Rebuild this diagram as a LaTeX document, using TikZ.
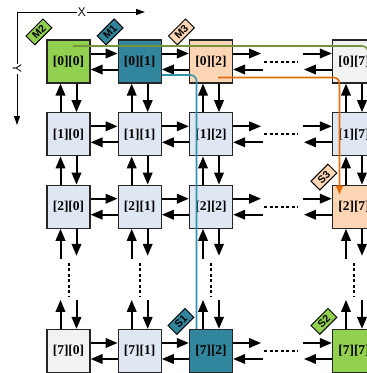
\documentclass[tikz,border=0pt]{standalone}
\usepackage{fontspec}
\setmainfont{Liberation Serif}
\newfontfamily\tagfont{Liberation Sans}
\usetikzlibrary{arrows.meta}
\definecolor{cgreen}{HTML}{92D050}
\definecolor{cteal}{HTML}{31859C}
\definecolor{cpeach}{HTML}{FCD5B5}
\definecolor{cblue}{HTML}{DFE7F3}
\definecolor{cgray}{HTML}{F2F2F2}
\definecolor{pgreen}{HTML}{77933C}
\definecolor{pteal}{HTML}{3493AC}
\definecolor{porange}{HTML}{E46C0A}
\tikzset{
  cell/.style={draw=black!85, line width=1.2pt, minimum size=43pt, inner sep=0pt,
    font=\bfseries\fontsize{13.5}{14}\selectfont},
  arr/.style={line width=2pt, -{Triangle[length=12pt,width=9.5pt]}},
  dots/.style={line width=2pt, dash pattern=on 3pt off 2.5pt},
  tagbox/.style={draw=black, line width=1pt, rotate=45, minimum width=24pt, minimum height=12.5pt,
    inner sep=0pt, font=\tagfont\bfseries\fontsize{10.5}{10.5}\selectfont},
  axis/.style={line width=1pt, -{Triangle[length=9pt,width=6pt]}},
  route/.style={line width=1.6pt, rounded corners=6pt},
}
\begin{document}
\begin{tikzpicture}[x=1pt,y=-1pt]
\useasboundingbox (0,0) rectangle (367,373);
\clip (0,0) rectangle (367,373);
% axes
\coordinate (O) at (17,12);
\coordinate (Xe) at (145,12);
\coordinate (Ye) at (17,125);
\draw[axis] (O) -- (Xe);
\draw[axis] (O) -- (Ye);
\node[fill=white, inner sep=1pt, font=\sffamily\fontsize{12.5}{12.5}\selectfont] (xl) at (82,12) {X};
\node[fill=white, inner sep=1pt, rotate=-90, font=\sffamily\fontsize{12.5}{12.5}\selectfont] (yl) at (17,69) {Y};
% cells
\node[cell, fill=cgreen] (n00) at (68.5,61.5) {[0][0]};
\node[cell, fill=cteal]  (n01) at (139.7,61.5) {[0][1]};
\node[cell, fill=cpeach] (n02) at (211,61.5) {[0][2]};
\node[cell, fill=cgray]  (n07) at (354,61.5) {[0][7]};
\node[cell, fill=cblue]  (n10) at (68.5,134.3) {[1][0]};
\node[cell, fill=cblue]  (n11) at (139.7,134.3) {[1][1]};
\node[cell, fill=cblue]  (n12) at (211,134.3) {[1][2]};
\node[cell, fill=cblue]  (n17) at (354,134.3) {[1][7]};
\node[cell, fill=cblue]  (n20) at (68.5,206.7) {[2][0]};
\node[cell, fill=cblue]  (n21) at (139.7,206.7) {[2][1]};
\node[cell, fill=cblue]  (n22) at (211,206.7) {[2][2]};
\node[cell, fill=cpeach] (n27) at (354,206.7) {[2][7]};
\node[cell, fill=cgray]  (n70) at (68.5,351) {[7][0]};
\node[cell, fill=cblue]  (n71) at (139.7,351) {[7][1]};
\node[cell, fill=cteal]  (n72) at (211,351) {[7][2]};
\node[cell, fill=cgreen] (n77) at (354,351) {[7][7]};
% horizontal links
\foreach \r in {0,1,2,7}{
  \foreach \a/\b in {0/1,1/2}{
    \draw[arr] ([yshift=8pt]n\r\a.east) -- ([yshift=8pt]n\r\b.west);
    \draw[arr] ([yshift=-8pt]n\r\b.west) -- ([yshift=-8pt]n\r\a.east);
  }
  \draw[arr] ([yshift=8pt]n\r2.east) -- ++(28,0);
  \draw[arr] ([shift={(30,8)}]n\r2.east) -- ([yshift=-8pt]n\r2.east);
  \draw[dots] ([xshift=31pt]n\r2.east) -- ([xshift=-34pt]n\r7.west);
  \draw[arr] ([shift={(-29,-8)}]n\r7.west) -- ([yshift=8pt]n\r7.west);
  \draw[arr] ([yshift=-8pt]n\r7.west) -- ++(-28,0);
}
% vertical links
\foreach \c in {0,1,2,7}{
  \foreach \a/\b in {0/1,1/2}{
    \draw[arr] ([xshift=-8pt]n\b\c.north) -- ([xshift=-8pt]n\a\c.south);
    \draw[arr] ([xshift=8pt]n\a\c.south) -- ([xshift=8pt]n\b\c.north);
  }
  \draw[arr] ([xshift=8pt]n2\c.south) -- ++(0,27);
  \draw[arr] ([shift={(-8,30)}]n2\c.south) -- ([xshift=-8pt]n2\c.south);
  \draw[dots] ([yshift=-34pt]n2\c.south) -- ([yshift=32pt]n7\c.north);
  \draw[arr] ([xshift=-8pt]n7\c.north) -- ++(0,-29);
  \draw[arr] ([shift={(8,-29)}]n7\c.north) -- ([xshift=8pt]n7\c.north);
}
% tags
\node[tagbox, fill=cgreen] (tM2) at ([shift={(-7.5,-7.5)}]n00.north west) {M2};
\node[tagbox, fill=cteal]  (tM1) at ([shift={(-7.5,-7.5)}]n01.north west) {M1};
\node[tagbox, fill=cpeach] (tM3) at ([shift={(-7.5,-7.5)}]n02.north west) {M3};
\node[tagbox, fill=cpeach] (tS3) at ([shift={(-8,-7.5)}]n27.north west) {S3};
\node[tagbox, fill=cteal]  (tS1) at ([shift={(-8,-7.5)}]n72.north west) {S1};
\node[tagbox, fill=cgreen] (tS2) at ([shift={(-8,-7.5)}]n77.north west) {S2};
% routes
\coordinate (gs) at ([shift={(4.5,-15.5)}]n00.center);
\coordinate (gc) at (368,46);
\coordinate (ge) at (368,120);
\draw[route, pgreen] (gs) -- (gc) -- (ge);
\coordinate (ts) at ([yshift=-13.5pt]n01.east);
\coordinate (tc2) at (196.5,75);
\draw[route, pteal] (ts) -- (tc2) -- ([xshift=-14.5pt]n72.north);
\coordinate (os) at ([shift={(7,16)}]n02.center);
\coordinate (oc) at (339.5,77.5);
\coordinate (oe) at ([shift={(-14.5,10)}]n27.north);
\draw[route, porange, -{Triangle[length=9pt,width=7pt]}] (os) -- (oc) -- (oe);
\end{tikzpicture}
\end{document}
